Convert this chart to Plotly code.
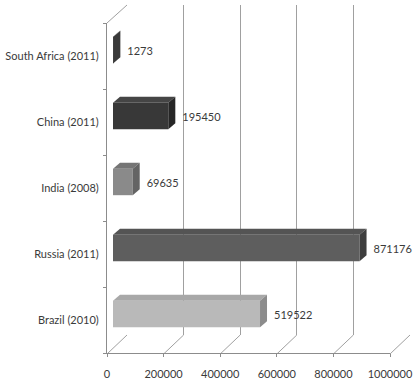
import plotly.graph_objects as go

# ---- data ----
categories = ["Brazil (2010)", "Russia (2011)", "India (2008)", "China (2011)", "South Africa (2011)"]
values = [519522, 871176, 69635, 195450, 1273]
x_ticks = [0, 200000, 400000, 600000, 800000, 1000000]
x_tick_labels = ["0", "200000", "400000", "600000", "800000", "1000000"]

front_colors = ["#b9b9b9", "#5e5e5e", "#8a8a8a", "#383838", "#4f4f4f"]
top_colors = ["#a8a8a8", "#545454", "#757575", "#454545", "#444444"]
side_colors = ["#8c8c8c", "#3e3e3e", "#646464", "#262626", "#3a3a3a"]

W, H = 419, 390
XMAX = 1000000
FONT = "Lato"
TXT = "#3a3a3a"
GRID = "#a0a0a0"
AX = "#8c8c8c"

def dom_x(p0, p1):
    return [p0 / W, p1 / W]

def dom_y(top, bottom):
    return [1 - bottom / H, 1 - top / H]

front_x = (107, 390); front_y = (23, 353)
back_x = (127, 410); back_y = (5, 335)
bar_x = (113, 396); bar_y = (17, 347)

# depth of bars in data units
px_per_x = (bar_x[1] - bar_x[0]) / XMAX
px_per_cat = (bar_y[1] - bar_y[0]) / 5.0
dx = 7 / px_per_x
dy = 6 / px_per_cat
bw = 0.4

fig = go.Figure()

# invisible trace for the front category axis
fig.add_trace(go.Scatter(x=[0] * len(categories), y=categories, mode="markers",
                         marker=dict(opacity=0), hoverinfo="skip", showlegend=False,
                         xaxis="x2", yaxis="y2"))
# invisible trace for back wall
fig.add_trace(go.Scatter(x=[0], y=[0], mode="markers", marker=dict(opacity=0),
                         hoverinfo="skip", showlegend=False, xaxis="x", yaxis="y"))

pos = list(range(len(categories)))
# front faces
fig.add_trace(go.Bar(x=values, y=pos, orientation="h", width=bw,
                     marker=dict(color=front_colors, line=dict(width=0)),
                     showlegend=False, xaxis="x3", yaxis="y3"))
# top and side faces
for v, p, tc, sc in zip(values, pos, top_colors, side_colors):
    yt = p + bw / 2
    yb = p - bw / 2
    fig.add_trace(go.Scatter(x=[0, v, v + dx, dx, 0], y=[yt, yt, yt + dy, yt + dy, yt],
                             fill="toself", fillcolor=tc, mode="lines",
                             line=dict(width=0, color=tc), hoverinfo="skip",
                             showlegend=False, xaxis="x3", yaxis="y3"))
    fig.add_trace(go.Scatter(x=[v, v + dx, v + dx, v, v], y=[yb, yb + dy, yt + dy, yt, yb],
                             fill="toself", fillcolor=sc, mode="lines",
                             line=dict(width=0, color=sc), hoverinfo="skip",
                             showlegend=False, xaxis="x3", yaxis="y3"))
# data labels
fig.add_trace(go.Scatter(x=[v + dx + 7 / px_per_x for v in values], y=[p - 0.03 for p in pos],
                         mode="text", text=[str(v) for v in values], textposition="middle right",
                         textfont=dict(family=FONT, size=11, color=TXT), cliponaxis=False,
                         hoverinfo="skip", showlegend=False, xaxis="x3", yaxis="y3"))

# connecting lines (side wall and floor edges)
def fx(v):
    return (front_x[0] + v / XMAX * (front_x[1] - front_x[0])) / W

def bx(v):
    return (back_x[0] + v / XMAX * (back_x[1] - back_x[0])) / W

shapes = []
for v in x_ticks:
    shapes.append(dict(type="line", xref="paper", yref="paper",
                       x0=fx(v), y0=1 - (front_y[1] + 1) / H, x1=bx(v), y1=1 - back_y[1] / H,
                       line=dict(color=GRID, width=1), layer="below"))
shapes.append(dict(type="line", xref="paper", yref="paper",
                   x0=fx(0), y0=1 - front_y[0] / H, x1=bx(0), y1=1 - back_y[0] / H,
                   line=dict(color=GRID, width=1), layer="below"))

fig.update_layout(
    width=W, height=H, autosize=False,
    margin=dict(l=0, r=0, t=0, b=0),
    paper_bgcolor="white", plot_bgcolor="rgba(0,0,0,0)",
    showlegend=False, shapes=shapes,
    font=dict(family=FONT, size=11, color=TXT),
    xaxis=dict(domain=dom_x(*back_x), range=[0, XMAX], tickvals=x_ticks, showticklabels=False,
               showgrid=True, gridcolor=GRID, gridwidth=1, zeroline=False, showline=False,
               ticks="", anchor="y", fixedrange=True),
    yaxis=dict(domain=dom_y(*back_y), range=[0, 1], visible=False, anchor="x", fixedrange=True),
    xaxis2=dict(domain=dom_x(*front_x), range=[0, XMAX], tickvals=x_ticks, ticktext=x_tick_labels,
                showgrid=False, zeroline=False, showline=True, linecolor=AX, linewidth=1,
                ticks="outside", ticklen=3, tickcolor=AX, ticklabelstandoff=8,
                tickfont=dict(family=FONT, size=11, color=TXT), anchor="y2",
                automargin=False, fixedrange=True),
    yaxis2=dict(domain=dom_y(*front_y), type="category", categoryorder="array",
                categoryarray=categories, range=[-0.5, 4.5], showgrid=False, zeroline=False,
                showline=True, linecolor=AX, linewidth=1, ticks="outside", ticklen=3,
                tickcolor=AX, tickson="boundaries", ticklabelstandoff=5,
                tickfont=dict(family=FONT, size=11, color=TXT), anchor="x2",
                automargin=False, fixedrange=True),
    xaxis3=dict(domain=dom_x(*bar_x), range=[0, XMAX], visible=False, anchor="y3", fixedrange=True),
    yaxis3=dict(domain=dom_y(*bar_y), range=[-0.5, 4.5], visible=False, anchor="x3", fixedrange=True),
)

fig.write_html("out.html", config={"displayModeBar": False},
               post_script="document.body.style.margin='0';document.body.style.overflow='hidden';")
